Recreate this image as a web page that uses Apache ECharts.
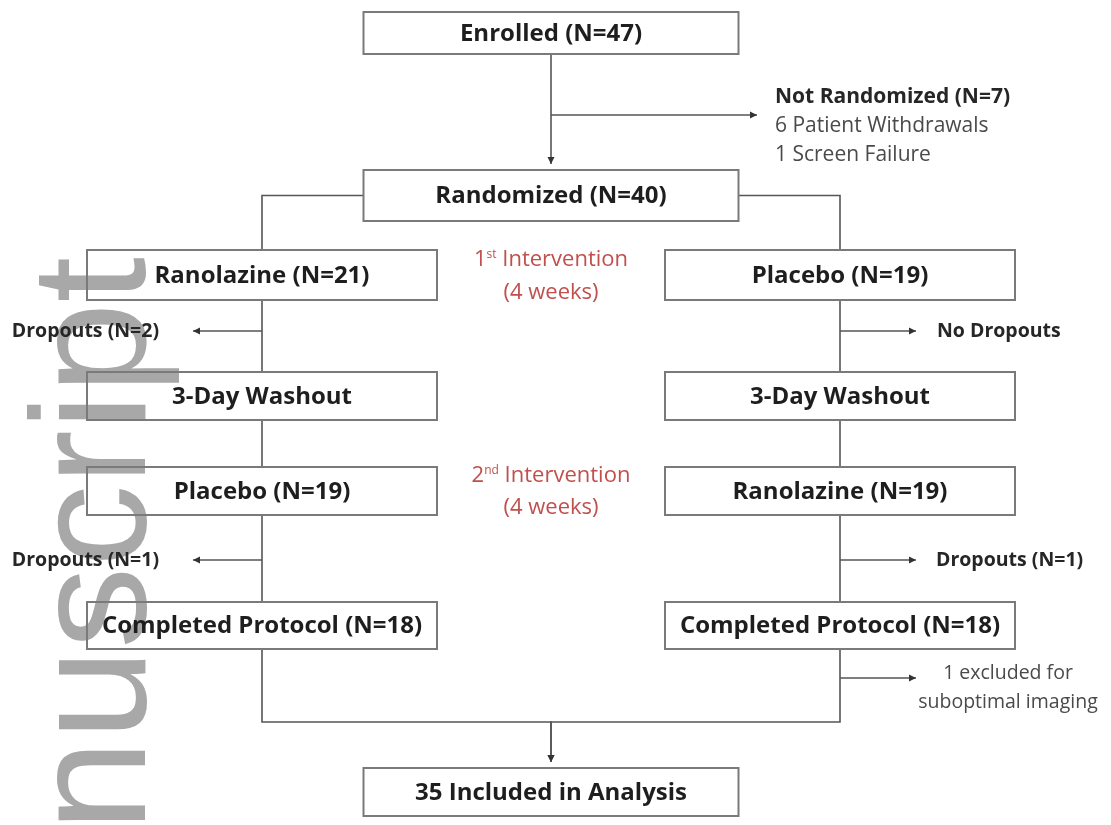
<!DOCTYPE html>
<html lang="en">
  <head>
    <meta charset="UTF-8" />
    <title>Ranolazine crossover flow</title>
    <script src="https://cdn.jsdelivr.net/npm/echarts@6/dist/echarts.min.js"></script>
    <style>
      html, body { margin: 0; padding: 0; background: #fff; }
      #flow { width: 1111px; height: 825px; }
    </style>
  </head>
  <body>
    <div id="flow"></div>
    <script>
      // boxes, top to bottom
      const boxLabels = [
        'Enrolled (N=47)', 'Randomized (N=40)',
        'Ranolazine (N=21)', 'Placebo (N=19)',
        '3-Day Washout', '3-Day Washout',
        'Placebo (N=19)', 'Ranolazine (N=19)',
        'Completed Protocol (N=18)', 'Completed Protocol (N=18)',
        '35 Included in Analysis'
      ];
      const boxColumn = ['mid', 'mid', 'left', 'right', 'left', 'right', 'left', 'right', 'left', 'right', 'mid'];
      const boxStep = [0, 1, 2, 2, 3, 3, 4, 4, 5, 5, 6];

      // arrows between boxes [from, to]
      const links = [[0, 1], [1, 2], [1, 3], [2, 4], [3, 5], [4, 6], [5, 7], [6, 8], [7, 9], [8, 10], [9, 10]];

      // people leaving the flow: which link they branch from, and the note
      const exitLink = [0, 3, 4, 7, 8, 10];
      const exitTitle = ['Not Randomized (N=7)', 'Dropouts (N=2)', 'No Dropouts', 'Dropouts (N=1)', 'Dropouts (N=1)', ''];
      const exitDetail = [
        ['6 Patient Withdrawals', '1 Screen Failure'], [], [], [], [],
        ['1 excluded for', 'suboptimal imaging']
      ];

      // intervention periods
      const periodNumber = ['1', '2'];
      const periodSuffix = ['st', 'nd'];
      const periodLength = ['(4 weeks)', '(4 weeks)'];

      // ---- layout (chart units = px) ----
      const FONT = 'Open Sans';
      const layout = {
        colX: { left: 262, mid: 551, right: 840 },
        colW: { left: 350, mid: 375, right: 350 },
        stepY: [33, 195.5, 275, 396, 491, 625.5, 792],
        stepH: [42, 51, 50, 48, 48, 47, 48],
        mergeY: 722,
        arrowGap: 6,
        exits: [
          { y: 115, len: 206, textX: 775, textY: 97, size: 21, align: 'left' },
          { y: 331, len: -69, textX: 159, textY: 331, size: 19.5, align: 'right' },
          { y: 331, len: 76, textX: 937, textY: 331, size: 19.5, align: 'left' },
          { y: 560, len: -69, textX: 159, textY: 560, size: 19.5, align: 'right' },
          { y: 560, len: 76, textX: 936, textY: 560, size: 19.5, align: 'left' },
          { y: 678, len: 76, textX: 1008, textY: 673, size: 19.5, align: 'center' }
        ],
        periodY: [[260, 293], [476, 508]],
        lineGap: 29
      };

      const lineColor = '#555555';
      const boxColor = '#7a7a7a';

      function boxRect(i) {
        const col = boxColumn[i], step = boxStep[i];
        return { cx: layout.colX[col], cy: layout.stepY[step], w: layout.colW[col], h: layout.stepH[step] };
      }

      function arrowHead(api, tip, prev) {
        const a = api.coord(tip), b = api.coord(prev);
        const dx = a[0] - b[0], dy = a[1] - b[1];
        const d = Math.sqrt(dx * dx + dy * dy) || 1;
        const ux = dx / d, uy = dy / d, L = 7, W = 3.5;
        return {
          type: 'polygon',
          shape: { points: [a, [a[0] - ux * L - uy * W, a[1] - uy * L + ux * W], [a[0] - ux * L + uy * W, a[1] - uy * L - ux * W]] },
          style: { fill: '#333' }
        };
      }

      function renderBox(params, api) {
        const i = api.value(0);
        const b = boxRect(i);
        const c = api.coord([b.cx, b.cy + 1]);
        const s = api.size([b.w, b.h]);
        const r = api.coord([b.cx, b.cy]);
        return {
          type: 'group',
          children: [
            { type: 'rect', shape: { x: r[0] - s[0] / 2, y: r[1] - s[1] / 2, width: s[0], height: s[1] },
              style: { fill: 'none', stroke: boxColor, lineWidth: 2 } },
            { type: 'text', style: { x: c[0], y: c[1], text: boxLabels[i], align: 'center', verticalAlign: 'middle',
              fill: '#1e1e1e', fontSize: 24, fontWeight: 'bold', fontFamily: FONT } }
          ]
        };
      }

      function renderLink(params, api) {
        const [from, to] = links[api.value(0)];
        const a = boxRect(from), b = boxRect(to);
        let pts, arrow = false;
        if (boxColumn[from] === boxColumn[to]) {
          arrow = boxColumn[to] === 'mid';
          pts = [[a.cx, a.cy + a.h / 2], [b.cx, b.cy - b.h / 2 - (arrow ? layout.arrowGap : 0)]];
        } else if (boxColumn[from] === 'mid') {
          const side = b.cx < a.cx ? -1 : 1;
          pts = [[a.cx + side * a.w / 2, a.cy], [b.cx, a.cy], [b.cx, b.cy - b.h / 2]];
        } else {
          arrow = true;
          pts = [[a.cx, a.cy + a.h / 2], [a.cx, layout.mergeY], [b.cx, layout.mergeY], [b.cx, b.cy - b.h / 2 - layout.arrowGap]];
        }
        const children = [{ type: 'polyline', shape: { points: pts.map(p => api.coord(p)) },
          style: { fill: 'none', stroke: lineColor, lineWidth: 1.6 } }];
        if (arrow) children.push(arrowHead(api, pts[pts.length - 1], pts[pts.length - 2]));
        return { type: 'group', children };
      }

      function renderExit(params, api) {
        const i = api.value(0);
        const e = layout.exits[i];
        const x0 = boxRect(links[exitLink[i]][0]).cx;
        const start = [x0, e.y], tip = [x0 + e.len, e.y];
        const children = [
          { type: 'line', shape: { x1: api.coord(start)[0], y1: api.coord(start)[1], x2: api.coord(tip)[0], y2: api.coord(tip)[1] },
            style: { stroke: lineColor, lineWidth: 1.6 } },
          arrowHead(api, tip, start)
        ];
        const lines = [];
        if (exitTitle[i]) lines.push({ t: exitTitle[i], bold: true });
        exitDetail[i].forEach(t => lines.push({ t, bold: false }));
        lines.forEach((ln, k) => {
          const p = api.coord([e.textX, e.textY + k * layout.lineGap]);
          children.push({ type: 'text', style: { x: p[0], y: p[1], text: ln.t, align: e.align, verticalAlign: 'middle',
            fill: ln.bold ? '#262626' : '#4a4a4a', fontSize: e.size, fontWeight: ln.bold ? 'bold' : 'normal', fontFamily: FONT } });
        });
        return { type: 'group', children };
      }

      function renderPeriod(params, api) {
        const i = api.value(0);
        const [y1, y2] = layout.periodY[i];
        const p1 = api.coord([layout.colX.mid, y1]), p2 = api.coord([layout.colX.mid, y2]);
        const red = '#c0504d';
        return {
          type: 'group',
          children: [
            { type: 'text', style: { x: p1[0], y: p1[1], align: 'center', verticalAlign: 'middle',
              text: '{n|' + periodNumber[i] + '}{s|' + periodSuffix[i] + '}{n| Intervention}',
              rich: { n: { fontSize: 22, fontFamily: FONT, fill: red }, s: { fontSize: 12, fontFamily: FONT, fill: red, verticalAlign: 'top' } } } },
            { type: 'text', style: { x: p2[0], y: p2[1], text: periodLength[i], align: 'center', verticalAlign: 'middle',
              fill: red, fontSize: 22, fontFamily: FONT } }
          ]
        };
      }

      const idx = arr => arr.map((_, i) => [i]);

      const chart = echarts.init(document.getElementById('flow'), null, { renderer: 'canvas' });
      chart.setOption({
        animation: false,
        backgroundColor: '#ffffff',
        grid: { left: 0, right: 0, top: 0, bottom: 0 },
        xAxis: { type: 'value', min: 0, max: 1111, show: false },
        yAxis: { type: 'value', min: 0, max: 825, inverse: true, show: false },
        graphic: [{
          type: 'text', x: 100, y: 257, rotation: Math.PI / 2, z: -10, silent: true,
          style: { text: 'Accepted Manuscript', align: 'right', verticalAlign: 'middle',
            fontSize: 164, fontFamily: 'Liberation Sans', fill: '#a8a8a8' }
        }],
        series: [
          { type: 'custom', renderItem: renderLink, data: idx(links), z: 3, silent: true },
          { type: 'custom', renderItem: renderExit, data: idx(exitLink), z: 3, silent: true },
          { type: 'custom', renderItem: renderBox, data: idx(boxLabels), z: 4, silent: true },
          { type: 'custom', renderItem: renderPeriod, data: idx(periodNumber), z: 4, silent: true }
        ]
      });
    </script>
  </body>
</html>
